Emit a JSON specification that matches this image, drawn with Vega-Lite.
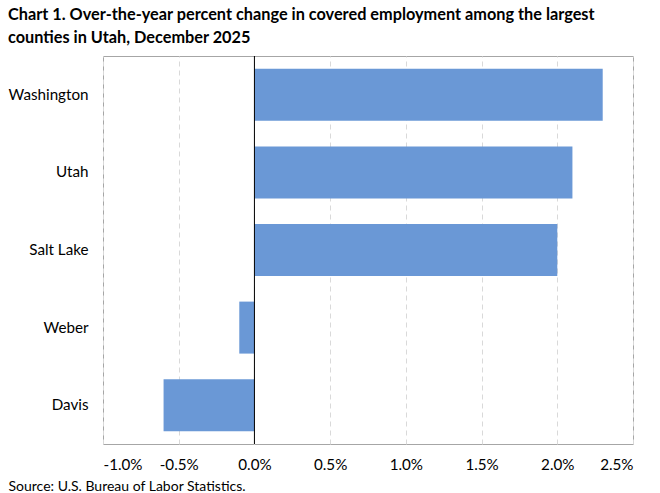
{
  "$schema": "https://vega.github.io/schema/vega-lite/v6.json",
  "width": 530,
  "height": 388,
  "autosize": {"type": "none"},
  "padding": {"left": 103, "top": 56, "right": 27, "bottom": 49},
  "background": "white",
  "config": {
    "font": "Lato",
    "view": {"stroke": "#a6a6a6", "strokeWidth": 1},
    "title": {"font": "Lato", "fontSize": 16.3, "fontWeight": "bold", "color": "#000000", "anchor": "start", "frame": "group", "lineHeight": 23}
  },
  "title": {
    "text": ["Chart 1. Over-the-year percent change in covered employment among the largest", "counties in Utah, December 2025"],
    "dx": -95,
    "offset": 9
  },
  "data": {
    "values": [
      {"county": "Washington", "change": 2.3},
      {"county": "Utah", "change": 2.1},
      {"county": "Salt Lake", "change": 2.0},
      {"county": "Weber", "change": -0.1},
      {"county": "Davis", "change": -0.6}
    ]
  },
  "layer": [
    {
      "mark": {"type": "bar", "color": "#6a98d6"},
      "encoding": {
        "y": {
          "field": "county",
          "type": "nominal",
          "sort": null,
          "scale": {"paddingInner": 0.33, "paddingOuter": 0.165},
          "axis": {
            "title": null,
            "ticks": false,
            "domain": false,
            "labelFontSize": 15.2,
            "labelColor": "#000000",
            "labelPadding": 15
          }
        },
        "x": {
          "field": "change",
          "type": "quantitative",
          "scale": {"domain": [-1, 2.5], "nice": false, "zero": false},
          "axis": {
            "values": [-1, -0.5, 0, 0.5, 1, 1.5, 2, 2.5],
            "labelExpr": "replace(format(datum.value / 100, '.1%'), '\u2212', '-')",
            "ticks": false,
            "domain": false,
            "grid": true,
            "gridColor": "#d9d9d9",
            "gridDash": [5, 4],
            "labelFontSize": 15.2,
            "labelColor": "#000000",
            "labelPadding": 13,
            "title": "Source: U.S. Bureau of Labor Statistics.",
            "titleFontSize": 14,
            "titleFontWeight": "normal",
            "titleColor": "#000000",
            "titleAnchor": "start",
            "titleAlign": "left",
            "titleBaseline": "alphabetic",
            "titleX": -95,
            "titleY": 46
          }
        }
      }
    },
    {
      "data": {"values": [{"zero": 0}]},
      "mark": {"type": "rule", "color": "#000000", "strokeWidth": 1},
      "encoding": {
        "x": {"field": "zero", "type": "quantitative"}
      }
    }
  ]
}
